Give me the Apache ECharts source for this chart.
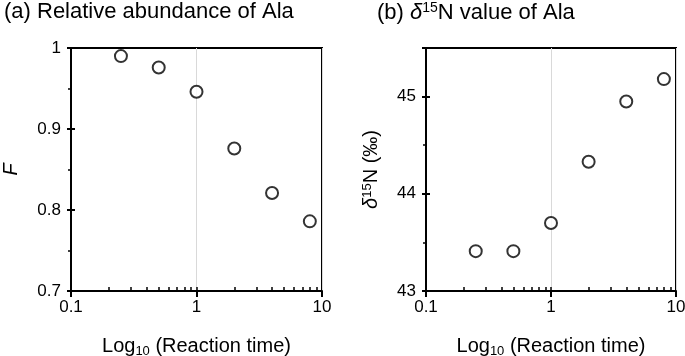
<!DOCTYPE html>
<html>
<head>
<meta charset="utf-8">
<script src="https://cdn.jsdelivr.net/npm/echarts@6/dist/echarts.min.js"></script>
<style>
  html, body { margin: 0; padding: 0; background: #fff; }
  #chart { width: 685px; height: 356px; }
</style>
</head>
<body>
<div id="chart"></div>
<script>
// reaction time (x, log scale)
const times = [0.25, 0.5, 1, 2, 4, 8]
// (a) relative abundance F
const abundance = [0.990, 0.976, 0.946, 0.876, 0.821, 0.786]
// (b) delta 15N of Ala
const delta15N = [43.41, 43.41, 43.70, 44.33, 44.95, 45.18]
const minorX = [0.2, 0.3, 0.4, 0.5, 0.6, 0.7, 0.8, 0.9, 2, 3, 4, 5, 6, 7, 8, 9]

const font = "'Liberation Sans', Arial, sans-serif"
const black = '#000'

function xAxes(gridIndex) {
	return [
		{
			type: 'log', gridIndex, min: 0.1, max: 10, logBase: 10,
			name: '{t|Log}{s|10}{t| (Reaction time)}',
			nameLocation: 'middle', nameGap: 43,
			nameTextStyle: {
				rich: {
					t: { fontFamily: font, fontSize: 20, color: black },
					s: { fontFamily: font, fontSize: 13, color: black, padding: [11, 0, 0, 0] }
				}
			},
			axisLine: { onZero: false, lineStyle: { color: black, width: 2 } },
			axisTick: { show: true, length: 6, inside: false, lineStyle: { color: black, width: 2 } },
			axisLabel: { fontFamily: font, fontSize: 17, color: black, margin: 8 },
			splitLine: { show: true, lineStyle: { color: '#d9d9d9', width: 1 } }
		},
		{
			// minor ticks and the inner half of the major ticks
			type: 'log', gridIndex, min: 0.1, max: 10, position: 'bottom',
			axisLine: { show: false },
			axisTick: { show: true, inside: true, length: 4,
				customValues: minorX.concat([1]),
				lineStyle: { color: black, width: 1.5 } },
			axisLabel: { show: false },
			splitLine: { show: false }
		}
	]
}

function yAxes(gridIndex, min, max, interval, name, gap) {
	return [
		{
			type: 'value', gridIndex, min, max, interval,
			name, nameLocation: 'middle', nameGap: gap,
			nameTextStyle: {
				rich: {
					i: { fontFamily: font, fontSize: 20, color: black, fontStyle: 'italic' },
					t: { fontFamily: font, fontSize: 20, color: black },
					s: { fontFamily: font, fontSize: 13, color: black, padding: [0, 0, 8, 0] }
				}
			},
			axisLine: { show: true, lineStyle: { color: black, width: 2 } },
			axisTick: { show: true, length: 4, lineStyle: { color: black, width: 2 } },
			minorTick: { show: true, splitNumber: 2, length: 3, lineStyle: { color: black, width: 1.5 } },
			axisLabel: { fontFamily: font, fontSize: 17, color: black, margin: 10,
				showMaxLabel: max % interval < 1e-9 || interval - (max % interval) < 1e-9,
				formatter: v => String(Math.round(v * 10) / 10) },
			splitLine: { show: false }
		},
		{
			type: 'value', gridIndex, min, max, interval, position: 'left',
			axisLine: { show: false },
			axisTick: { show: true, inside: true, length: 4, lineStyle: { color: black, width: 2 } },
			axisLabel: { show: false },
			splitLine: { show: false }
		}
	]
}

const chart = echarts.init(document.getElementById('chart'), null, { renderer: 'canvas' })
chart.setOption({
	animation: false,
	backgroundColor: '#fff',
	title: [
		{
			text: '(a) Relative abundance of Ala', left: 4, top: 1, padding: 0,
			textStyle: { fontFamily: font, fontSize: 22, fontWeight: 'normal', color: black }
		},
		{
			text: '(b) {i|δ}{s|15}N value of Ala', left: 377, top: 1, padding: 0,
			textStyle: {
				fontFamily: font, fontSize: 22, fontWeight: 'normal', color: black,
				rich: {
					i: { fontFamily: font, fontSize: 22, fontStyle: 'italic', color: black },
					s: { fontFamily: font, fontSize: 14, color: black, padding: [0, 0, 9, 0] }
				}
			}
		}
	],
	grid: [
		{ left: 71, right: 363, top: 48, bottom: 65, show: true, borderColor: black, borderWidth: 2,
			outerBoundsMode: 'none', containLabel: false },
		{ left: 426, right: 9, top: 48, bottom: 65, show: true, borderColor: black, borderWidth: 2,
			outerBoundsMode: 'none', containLabel: false }
	],
	xAxis: xAxes(0).concat(xAxes(1)),
	yAxis: yAxes(0, 0.7, 1, 0.1, '{i|F}', 50)
		.concat(yAxes(1, 43, 45.5, 1, '{i|δ}{s|15}{t|N (‰)}', 44)),
	series: [
		{
			type: 'scatter', xAxisIndex: 0, yAxisIndex: 0,
			data: times.map((t, i) => [t, abundance[i]]),
			symbol: 'circle', symbolSize: 12,
			itemStyle: { color: '#fff', borderColor: black, borderWidth: 2 }
		},
		{
			type: 'scatter', xAxisIndex: 2, yAxisIndex: 2,
			data: times.map((t, i) => [t, delta15N[i]]),
			symbol: 'circle', symbolSize: 12,
			itemStyle: { color: '#fff', borderColor: black, borderWidth: 2 }
		}
	]
})
</script>
</body>
</html>
